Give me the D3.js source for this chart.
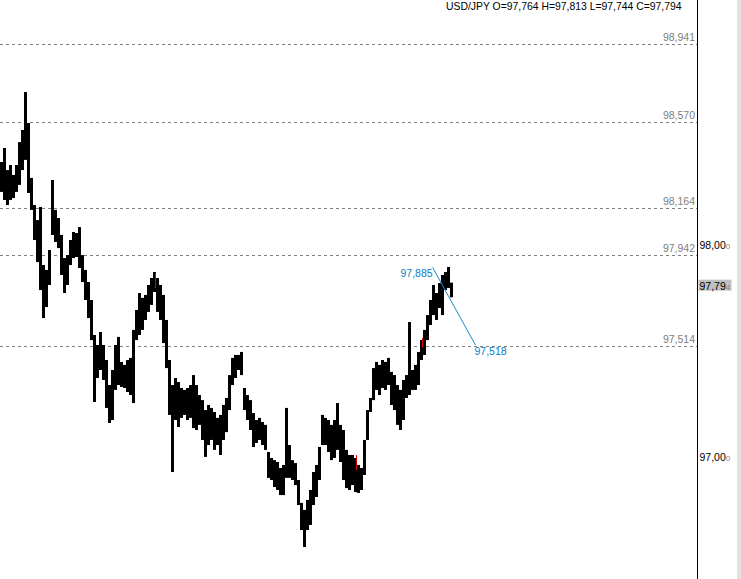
<!DOCTYPE html>
<html><head><meta charset="utf-8">
<script src="https://cdn.jsdelivr.net/npm/d3@7"></script>
<style>html,body{margin:0;padding:0;background:#fff;overflow:hidden}svg{display:block}</style>
</head><body><svg id="c" width="741" height="579"></svg>
<script>
const symbol = "USD/JPY";
const lastBar = {O: 97.764, H: 97.813, L: 97.744, C: 97.794};
const highs = [98.382,98.448,98.344,98.368,98.321,98.368,98.476,98.533,98.712,98.566,
98.307,98.179,98.108,98.170,97.896,97.873,97.967,98.297,98.156,98.118,
98.038,97.929,97.943,98.014,98.052,98.047,98.075,97.943,97.873,97.816,
97.731,97.566,97.519,97.580,97.519,97.448,97.330,97.401,97.519,97.557,
97.439,97.425,97.448,97.458,97.590,97.684,97.764,97.741,97.755,97.802,
97.835,97.863,97.835,97.802,97.755,97.637,97.448,97.330,97.363,97.344,
97.316,97.307,97.316,97.330,97.377,97.330,97.283,97.259,97.212,97.236,
97.222,97.203,97.175,97.189,97.236,97.269,97.377,97.458,97.472,97.472,
97.486,97.316,97.283,97.259,97.198,97.165,97.175,97.156,97.142,97.014,
96.986,96.976,96.967,96.939,96.953,97.222,97.047,96.976,96.962,96.882,
96.774,96.741,96.788,96.835,96.920,96.953,97.038,97.189,97.175,97.165,
97.142,97.165,97.245,97.142,97.118,97.024,97.000,97.000,96.986,96.953,
96.939,97.071,97.212,97.269,97.410,97.439,97.425,97.448,97.439,97.458,
97.392,97.377,97.330,97.307,97.354,97.377,97.627,97.401,97.425,97.486,
97.542,97.590,97.660,97.731,97.802,97.764,97.811,97.849,97.863,97.887,
97.813];
const lows = [98.241,98.203,98.179,98.203,98.212,98.241,98.274,98.344,98.392,98.236,
98.156,98.014,97.910,97.778,97.646,97.698,97.802,98.038,98.005,97.976,
97.849,97.764,97.802,97.896,97.929,97.934,97.882,97.816,97.731,97.646,
97.542,97.250,97.363,97.401,97.354,97.222,97.151,97.165,97.307,97.330,
97.321,97.316,97.297,97.283,97.245,97.542,97.566,97.590,97.637,97.675,
97.708,97.769,97.675,97.637,97.528,97.410,97.189,96.920,97.165,97.132,
97.175,97.189,97.165,97.175,97.127,97.118,97.142,97.071,96.991,97.047,
97.071,97.024,97.047,97.000,97.071,97.108,97.212,97.330,97.363,97.401,
97.377,97.212,97.165,97.118,97.038,97.057,97.071,97.047,97.024,96.892,
96.882,96.849,96.835,96.811,96.811,96.892,96.892,96.882,96.858,96.764,
96.646,96.566,96.646,96.670,96.764,96.802,96.882,97.047,97.047,97.014,
96.976,96.986,97.024,96.967,96.882,96.844,96.835,96.858,96.825,96.821,
96.835,96.906,97.071,97.203,97.259,97.307,97.283,97.316,97.307,97.330,
97.236,97.212,97.142,97.118,97.165,97.269,97.283,97.307,97.307,97.330,
97.448,97.472,97.542,97.613,97.660,97.637,97.693,97.660,97.778,97.788,
97.744];
const redIdx = [51, 118, 140];
const redTop = [97.858, 97.000, 97.552];
const redBottom = [97.788, 96.929, 97.509];
const levels = [98.941, 98.570, 98.164, 97.942, 97.514];
const axisTicks = [98.000, 97.000];
const trendFrom = {i: 143.7, p: 97.885};
const trendTo = {i: 158.0, p: 97.518};

const W = 741, H = 579;
const FONT = "'Liberation Sans', Arial, sans-serif";
const FS = 10.5;
const fmt = v => d3.format(".3f")(v).replace(".", ",");

const svg = d3.select("#c");
const y = d3.scaleLinear().domain([97, 98]).range([455, 243]);
const x = d3.scaleLinear().domain([0, highs.length - 1]).range([1.5, 451.5]);
const axisX = 697.5;

// right gray strip
svg.append("rect").attr("x", 737).attr("y", 0).attr("width", 4).attr("height", H).attr("fill", "#e3e3e3");

// level lines
const lv = svg.append("g");
lv.selectAll("line").data(levels).join("line")
  .attr("x1", 0).attr("x2", axisX - 0.5)
  .attr("y1", d => Math.round(y(d)) + 0.5).attr("y2", d => Math.round(y(d)) + 0.5)
  .attr("stroke", "#808080").attr("stroke-width", 1).attr("stroke-dasharray", "3,3");
lv.selectAll("text").data(levels).join("text")
  .attr("x", 695).attr("y", d => Math.round(y(d)) - 3)
  .attr("text-anchor", "end").attr("font-family", FONT).attr("font-size", FS)
  .attr("fill", "#808080").text(fmt);

// bars
const bw = x(1) - x(0);
svg.append("g").selectAll("rect").data(highs).join("rect")
  .attr("x", (d, i) => x(i) - bw / 2).attr("width", bw)
  .attr("y", d => y(d)).attr("height", (d, i) => Math.max(1, y(lows[i]) - y(d)))
  .attr("fill", "#000");
svg.append("g").selectAll("line").data(redIdx).join("line")
  .attr("x1", d => Math.round(x(d)) + 0.5).attr("x2", d => Math.round(x(d)) + 0.5)
  .attr("y1", (d, k) => y(redTop[k])).attr("y2", (d, k) => y(redBottom[k]))
  .attr("stroke", "#e00000").attr("stroke-width", 1);

// trend line
const blue = "#0b7dc6";
svg.append("line")
  .attr("x1", x(trendFrom.i)).attr("y1", y(trendFrom.p))
  .attr("x2", x(trendTo.i)).attr("y2", y(trendTo.p))
  .attr("stroke", "#1a8bd0").attr("stroke-width", 1);
svg.append("text").attr("x", x(trendFrom.i)).attr("y", y(trendFrom.p) + 10)
  .attr("text-anchor", "end").attr("font-family", FONT).attr("font-size", FS)
  .attr("fill", blue).text(fmt(trendFrom.p));
svg.append("text").attr("x", x(trendTo.i) - 1).attr("y", y(trendTo.p) + 9.5)
  .attr("font-family", FONT).attr("font-size", FS)
  .attr("fill", blue).text(fmt(trendTo.p));

// axis line
svg.append("line").attr("x1", axisX).attr("x2", axisX).attr("y1", 0).attr("y2", H)
  .attr("stroke", "#000").attr("stroke-width", 1);

// right axis
const ax = svg.append("g").attr("transform", `translate(${axisX},0)`)
  .call(d3.axisRight(y).tickValues(axisTicks).tickSize(0).tickPadding(2));
ax.select(".domain").remove();
ax.selectAll("text").attr("font-family", FONT).attr("font-size", FS).attr("fill", "#000")
  .attr("dy", null).attr("y", 5)
  .each(function(d) {
    const s = fmt(d);
    const t = d3.select(this).text(null);
    t.append("tspan").text(s.slice(0, -1));
    t.append("tspan").attr("font-size", 8).attr("fill", "#888").text(s.slice(-1));
  });

// current price marker
const cy = y(lastBar.C);
svg.append("rect").attr("x", axisX + 1).attr("y", cy - 7).attr("width", 33).attr("height", 11)
  .attr("fill", "#c0c0c0");
const ct = svg.append("text").attr("x", axisX + 2).attr("y", cy + 3)
  .attr("font-family", FONT).attr("font-size", FS).attr("fill", "#000");
const cs = fmt(lastBar.C);
ct.append("tspan").text(cs.slice(0, -1));
ct.append("tspan").attr("font-size", 8).attr("fill", "#888").text(cs.slice(-1));

// header
svg.append("text").attr("x", 446).attr("y", 9.5)
  .attr("font-family", FONT).attr("font-size", 10.4).attr("fill", "#000")
  .text(`${symbol} O=${fmt(lastBar.O)} H=${fmt(lastBar.H)} L=${fmt(lastBar.L)} C=${fmt(lastBar.C)}`);
</script></body></html>
